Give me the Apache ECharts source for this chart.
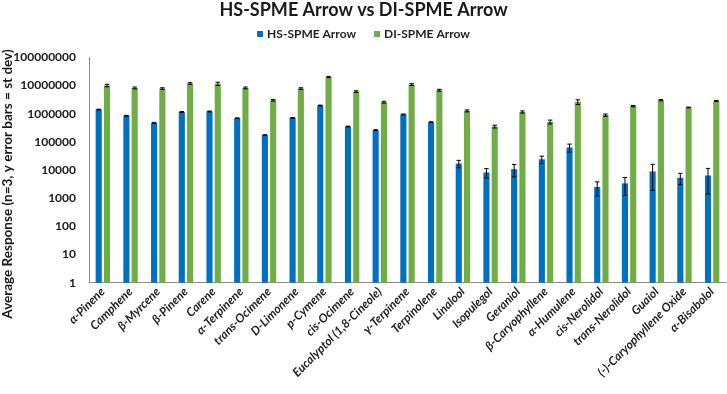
<!DOCTYPE html>
<html><head><meta charset="utf-8">
<script src="https://cdn.jsdelivr.net/npm/echarts@6/dist/echarts.min.js"></script>
<style>html,body{margin:0;padding:0;background:#fff}#c{width:727px;height:394px}</style>
</head><body><div id="c"></div>
<script>
const categories = ['α-Pinene','Camphene','β-Myrcene','β-Pinene','Carene','α-Terpinene','trans-Ocimene','D-Limonene','p-Cymene','cis-Ocimene','Eucalyptol (1,8-Cineole)','γ-Terpinene','Terpinolene','Linalool','Isopulegol','Geraniol','β-Caryophyllene','α-Humulene','cis-Nerolidol','trans-Nerolidol','Guaiol','(-)-Caryophyllene Oxide','α-Bisabolol'];
const hsValues = [1.4e6, 8.4e5, 4.7e5, 1.15e6, 1.2e6, 6.9e5, 1.73e5, 7.1e5, 1.95e6, 3.5e5, 2.6e5, 9.4e5, 5.0e5, 1.7e4, 8.2e3, 1.07e4, 2.4e4, 6.3e4, 2.5e3, 3.35e3, 8.9e3, 5.3e3, 6.4e3];
const hsSd = [4e4, 3e4, 2e4, 4e4, 4e4, 2e4, 6e3, 2e4, 6e4, 1e4, 1e4, 3e4, 1.5e4, 5e3, 3e3, 5e3, 7e3, 2e4, 1.3e3, 2.1e3, 7e3, 2.3e3, 5e3];
const diValues = [1.0e7, 8.2e6, 7.8e6, 1.18e7, 1.15e7, 8.2e6, 3.0e6, 7.8e6, 2.0e7, 6.1e6, 2.56e6, 1.08e7, 6.8e6, 1.26e6, 3.5e5, 1.15e6, 5.1e5, 2.6e6, 8.9e5, 1.85e6, 3.0e6, 1.66e6, 2.84e6];
const diSd = [1e6, 6e5, 5e5, 8e5, 1.5e6, 6e5, 2e5, 5e5, 1e6, 4e5, 2e5, 8e5, 5e5, 1e5, 4e4, 1e5, 8e4, 5e5, 8e4, 1e5, 1.5e5, 5e4, 1e5];
const seriesNames = ['HS-SPME Arrow', 'DI-SPME Arrow'];
const yTickValues = [1, 10, 100, 1000, 10000, 100000, 1000000, 10000000, 100000000];

const FONT = 'Lato';
const CAT_GAP = 0.48, BAR_GAP = 0.35;

function errSeries(vals, sds, sign) {
  return {
    type: 'custom',
    z: 5,
    silent: true,
    data: vals.map((v, i) => [i, v, sds[i]]),
    encode: { x: 0, y: 1 },
    renderItem: function (params, api) {
      const i = api.value(0), v = api.value(1), sd = api.value(2);
      const w = api.size([1, 0])[0];
      const bw = w * (1 - CAT_GAP) / (2 + BAR_GAP);
      const off = sign * (1 + BAR_GAP) * bw / 2;
      const top = api.coord([i, v + sd]);
      const bot = api.coord([i, Math.max(v - sd, 1)]);
      const x = top[0] + off;
      const cap = 2.2;
      const st = { stroke: '#000', lineWidth: 1 };
      return { type: 'group', children: [
        { type: 'line', shape: { x1: x, y1: top[1], x2: x, y2: bot[1] }, style: st },
        { type: 'line', shape: { x1: x - cap, y1: top[1], x2: x + cap, y2: top[1] }, style: st },
        { type: 'line', shape: { x1: x - cap, y1: bot[1], x2: x + cap, y2: bot[1] }, style: st }
      ]};
    }
  };
}

const chart = echarts.init(document.getElementById('c'), null, { renderer: 'canvas' });
chart.setOption({
  animation: false,
  textStyle: { fontFamily: FONT },
  title: {
    text: 'HS-SPME Arrow vs DI-SPME Arrow',
    left: 'center', top: -4,
    textStyle: { fontFamily: FONT, fontWeight: 'bold', fontSize: 18, color: '#1a1a1a' }
  },
  legend: {
    data: seriesNames,
    top: 23, left: 'center',
    icon: 'rect', itemWidth: 6, itemHeight: 6, itemGap: 18,
    textStyle: { fontFamily: FONT, fontWeight: 'bold', fontSize: 12, color: '#222', padding: [0, 0, 0, -1] }
  },
  grid: { left: 89, right: 1, top: 57.3, bottom: 111.3, containLabel: false },
  xAxis: {
    type: 'category',
    data: categories,
    axisLine: { lineStyle: { color: '#8c8c8c', width: 1 } },
    axisTick: { show: false },
    axisLabel: {
      interval: 0, rotate: 45, margin: 7,
      fontFamily: FONT, fontStyle: 'italic', fontWeight: 'bold', fontSize: 12, color: '#222'
    }
  },
  yAxis: {
    type: 'log', logBase: 10, min: 1, max: 100000000, splitNumber: 8,
    axisLine: { show: true, lineStyle: { color: '#8c8c8c', width: 1 } },
    axisTick: { show: false },
    splitLine: { show: false },
    axisLabel: {
      margin: 13, fontFamily: FONT, fontWeight: 'bold', fontSize: 12, color: '#1a1a1a',
      formatter: v => String(Math.round(v))
    }
  },
  graphic: [{
    type: 'text',
    x: 8, y: 184, rotation: Math.PI / 2,
    style: {
      text: 'Average Response (n=3, y error bars = st dev)',
      font: 'bold 13.5px ' + FONT, fill: '#1a1a1a',
      textAlign: 'center', textVerticalAlign: 'middle'
    }
  }],
  series: [
    { name: seriesNames[0], type: 'bar', data: hsValues, barGap: (BAR_GAP * 100) + '%', barCategoryGap: (CAT_GAP * 100) + '%', itemStyle: { color: '#0070C0' } },
    { name: seriesNames[1], type: 'bar', data: diValues, barGap: (BAR_GAP * 100) + '%', barCategoryGap: (CAT_GAP * 100) + '%', itemStyle: { color: '#70AD47' } },
    errSeries(hsValues, hsSd, -1),
    errSeries(diValues, diSd, 1)
  ]
});
</script></body></html>
